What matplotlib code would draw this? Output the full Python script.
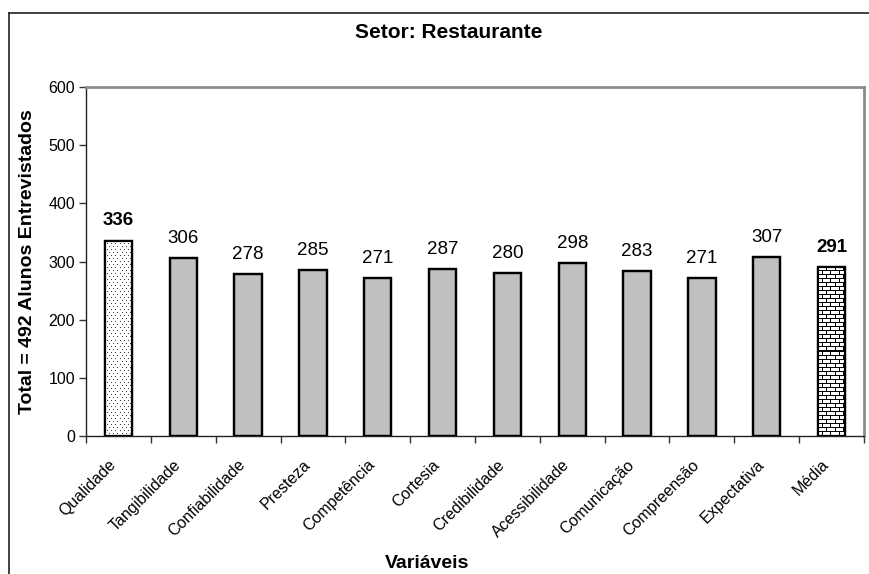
import numpy as np
import matplotlib
matplotlib.use("Agg")
import matplotlib.pyplot as plt
from matplotlib.lines import Line2D
from matplotlib.ticker import FixedLocator
from matplotlib.transforms import ScaledTranslation

plt.rcParams['font.family'] = ['Liberation Sans', 'DejaVu Sans']

categories = ["Qualidade", "Tangibilidade", "Confiabilidade", "Presteza",
              "Competência", "Cortesia", "Credibilidade", "Acessibilidade",
              "Comunicação", "Compreensão", "Expectativa", "Média"]
values = [336, 306, 278, 285, 271, 287, 280, 298, 283, 271, 307, 291]
y_ticks = [0, 100, 200, 300, 400, 500, 600]
title = "Setor: Restaurante"
y_label = "Total = 492 Alunos Entrevistados"
x_label = "Variáveis"

W, H, DPI = 869, 574, 100
fig = plt.figure(figsize=(W / DPI, H / DPI), dpi=DPI)
ax = fig.add_axes([86 / W, 1 - 436 / H, (864 - 86) / W, (436 - 87) / H])

x = np.arange(len(categories))
styles = ["dots"] + ["plain"] * 10 + ["bricks"]
faces = ["white" if s != "plain" else "#c0c0c0" for s in styles]
bars = ax.bar(x, values, width=0.42, color=faces, edgecolor="black",
              linewidth=1.6, zorder=2)

ax.set_xlim(-0.5, len(categories) - 0.5)
ax.set_ylim(0, 600)
ax.set_autoscale_on(False)


def tile_dots(h, w):
    img = np.ones((h, w, 3))
    for r in range(0, h, 3):
        off = 0 if (r // 3) % 2 == 0 else 2
        for c in range(off, w, 4):
            img[r, c] = 0.25
    return img


def tile_bricks(h, w):
    img = np.ones((h, w, 3))
    for r in range(h):
        band = r // 4
        if r % 4 == 0:
            img[r, :] = 0.0
        else:
            off = 0 if band % 2 == 0 else 4
            img[r, off::8] = 0.0
    return img


# texture fills for the two highlighted bars, clipped to the bar outline
for bar, style in zip(bars, styles):
    if style == "plain":
        continue
    bb = bar.get_window_extent()
    pw, ph = max(int(round(bb.width)), 1), max(int(round(bb.height)), 1)
    img = tile_dots(ph, pw) if style == "dots" else tile_bricks(ph, pw)
    x0 = bar.get_x()
    im = ax.imshow(img, extent=(x0, x0 + bar.get_width(), 0, bar.get_height()),
                   origin="upper", interpolation="nearest", aspect="auto",
                   zorder=2.5)
    im.set_clip_path(bar)
ax.bar(x, values, width=0.42, facecolor="none", edgecolor="black",
       linewidth=1.6, zorder=3)
ax.set_xlim(-0.5, len(categories) - 0.5)
ax.set_ylim(0, 600)

# value labels
for xi, v, s in zip(x, values, styles):
    ax.annotate(str(v), (xi, v), xytext=(0, 8), textcoords="offset points",
                ha="center", va="bottom", fontsize=13.5,
                fontweight="bold" if s != "plain" else "normal")

# axes styling
ax.yaxis.set_major_locator(FixedLocator(y_ticks))
ax.tick_params(axis="y", direction="out", length=5, width=1, labelsize=11.5,
               pad=3, color="#333333")
ax.xaxis.set_major_locator(FixedLocator(np.arange(len(categories) + 1) - 0.5))
ax.xaxis.set_minor_locator(FixedLocator(x))
ax.tick_params(axis="x", which="major", direction="out", length=5, width=1,
               labelbottom=False, color="#333333")
ax.tick_params(axis="x", which="minor", length=0, pad=19)
ax.set_xticklabels(categories, minor=True, rotation=45, ha="right",
                   va="center", rotation_mode="anchor", fontsize=11.5)
shift = ScaledTranslation(-5 / DPI, 0, fig.dpi_scale_trans)
for lbl in ax.get_xticklabels(minor=True):
    lbl.set_transform(lbl.get_transform() + shift)

for side in ("left", "bottom"):
    ax.spines[side].set_color("#222222")
    ax.spines[side].set_linewidth(1.0)
for side in ("top", "right"):
    ax.spines[side].set_color("#8c8c8c")
    ax.spines[side].set_linewidth(2.0)

fig.text(449 / W, 1 - 33 / H, title, ha="center", va="center",
         fontsize=15, fontweight="bold")
fig.text(28 / W, 1 - 262 / H, y_label, ha="center", va="center",
         rotation=90, fontsize=14, fontweight="bold")
fig.text(427 / W, 1 - 563 / H, x_label, ha="center", va="center",
         fontsize=14, fontweight="bold")

# outer chart frame (left and top edges)
fig.add_artist(Line2D([9 / W, 9 / W], [0, 1 - 13 / H],
                      transform=fig.transFigure, color="#333333", lw=1.3))
fig.add_artist(Line2D([9 / W, 1], [1 - 13 / H, 1 - 13 / H],
                      transform=fig.transFigure, color="#333333", lw=1.3))

fig.savefig("out.png", dpi=DPI)
